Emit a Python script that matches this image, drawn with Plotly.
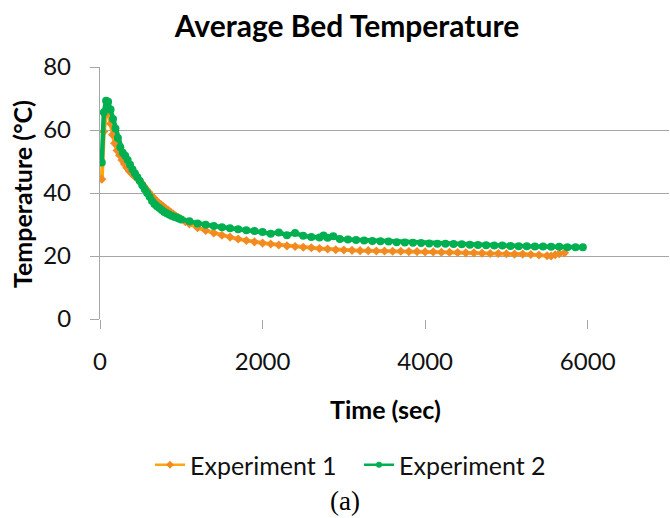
import plotly.graph_objects as go

# Experiment 1 (orange)
t1 = [22, 47, 75, 105, 130, 155, 180, 210, 240, 270, 300, 330, 360, 390, 420, 450, 480, 510, 540, 570,
      600, 630, 660, 690, 720, 750, 780, 810, 840, 870, 900, 930, 960, 990, 1050, 1100, 1200, 1300, 1400,
      1500, 1600, 1700, 1800, 1900, 2000, 2100, 2200, 2300, 2400, 2500, 2600, 2700, 2800, 2900, 3000,
      3100, 3200, 3300, 3400, 3500, 3600, 3700, 3800, 3900, 4000, 4100, 4200, 4300, 4400, 4500, 4600,
      4700, 4800, 4900, 5000, 5100, 5200, 5300, 5400, 5500, 5550, 5600, 5650, 5715]
T1 = [44.4, 59.5, 65.0, 66.6, 62.0, 58.5, 55.8, 53.5, 52.0, 50.5, 49.2, 48.0, 47.0, 46.2, 45.4, 44.8, 44.1,
      43.2, 42.2, 41.2, 40.2, 39.3, 38.5, 37.6, 36.9, 36.3, 35.7, 35.1, 34.5, 33.9, 33.3, 32.8, 32.3, 31.8,
      30.9, 30.2, 29.0, 28.1, 27.3, 26.6, 26.0, 25.4, 24.9, 24.5, 24.1, 23.8, 23.5, 23.2, 23.0, 22.8, 22.6,
      22.4, 22.2, 22.0, 21.9, 21.8, 21.7, 21.7, 21.6, 21.6, 21.5, 21.5, 21.4, 21.4, 21.3, 21.3, 21.2, 21.2,
      21.1, 21.0, 21.0, 20.9, 20.8, 20.8, 20.7, 20.6, 20.6, 20.5, 20.3, 20.1, 20.0, 20.4, 20.7, 21.0]

# Experiment 2 (green)
t2 = [22, 47, 75, 100, 130, 160, 190, 220, 250, 280, 310, 340, 370, 400, 430, 460, 490, 520, 550, 580,
      610, 640, 670, 700, 730, 760, 790, 820, 850, 880, 910, 940, 970, 1000, 1100, 1200, 1300, 1400, 1500,
      1600, 1700, 1800, 1900, 2000, 2100, 2200, 2300, 2400, 2500, 2600, 2700, 2750, 2800, 2870, 2950,
      3050, 3150, 3250, 3350, 3450, 3550, 3650, 3750, 3850, 3950, 4050, 4150, 4250, 4350, 4450, 4550,
      4650, 4750, 4850, 4950, 5050, 5150, 5250, 5350, 5450, 5550, 5650, 5750, 5850, 5940]
T2 = [49.7, 65.6, 69.3, 69.0, 66.5, 63.5, 60.5, 57.5, 54.5, 52.8, 51.8, 50.5, 49.0, 47.5, 46.2, 45.0, 43.8,
      42.5, 41.2, 40.0, 38.8, 37.5, 36.5, 35.8, 35.2, 34.6, 34.0, 33.6, 33.2, 32.8, 32.5, 32.2, 31.9, 31.6,
      31.0, 30.3, 29.9, 29.5, 29.1, 28.8, 28.5, 28.2, 27.9, 27.6, 27.1, 27.5, 26.6, 27.3, 26.4, 26.0, 25.9,
      26.5, 25.8, 26.3, 25.4, 25.2, 25.1, 24.9, 24.8, 24.7, 24.6, 24.4, 24.3, 24.2, 24.1, 24.0, 23.9, 23.9,
      23.8, 23.7, 23.6, 23.5, 23.4, 23.3, 23.3, 23.2, 23.1, 23.1, 23.0, 23.0, 22.9, 22.9, 22.8, 22.8, 22.8]

series_names = ["Experiment 1", "Experiment 2"]
x_ticks = [0, 2000, 4000, 6000]
y_ticks = [0, 20, 40, 60, 80]

W, H = 670, 518
ML, MR, MT, MB = 100, 1, 67, 199
PH = H - MT - MB
PW = W - ML - MR

def py(p):
    return (H - MB - p) / PH

def px(p):
    return (p - ML) / PW

FONT = "Lato"
grid = "#a6a6a6"
ORANGE_LINE, ORANGE_MK, GREEN = "#FFA60F", "#F28A24", "#00B050"

fig = go.Figure()
fig.add_trace(go.Scatter(
    x=t1, y=T1, mode="lines+markers", name=series_names[0], showlegend=False,
    line=dict(color=ORANGE_LINE, width=4),
    marker=dict(symbol="diamond", size=7, color=ORANGE_MK),
))
fig.add_trace(go.Scatter(
    x=t2, y=T2, mode="lines+markers", name=series_names[1], showlegend=False,
    line=dict(color=GREEN, width=4.5),
    marker=dict(symbol="circle", size=8, color=GREEN),
))
# legend entries (thin line + small marker, as in the original legend)
fig.add_trace(go.Scatter(
    x=[None], y=[None], mode="lines+markers", name=series_names[0],
    line=dict(color=ORANGE_LINE, width=2.5),
    marker=dict(symbol="diamond", size=6, color=ORANGE_MK),
))
fig.add_trace(go.Scatter(
    x=[None], y=[None], mode="lines+markers", name=series_names[1],
    line=dict(color=GREEN, width=2.5),
    marker=dict(symbol="circle", size=6, color=GREEN),
))

fig.update_layout(
    width=W, height=H,
    margin=dict(l=ML, r=MR, t=MT, b=MB),
    paper_bgcolor="white", plot_bgcolor="white",
    font=dict(family=FONT, size=24, color="#111111"),
    showlegend=True,
    legend=dict(orientation="h", x=px(359), xanchor="center", y=py(465), yanchor="middle",
                font=dict(family=FONT, size=25), itemwidth=30, tracegroupgap=0,
                entrywidth=164, entrywidthmode="pixels",
                bgcolor="rgba(0,0,0,0)"),
    title=dict(text="<b>Average Bed Temperature</b>", x=347 / W, xanchor="center",
               y=1 - 26 / H, yanchor="middle", font=dict(family=FONT, size=30, color="#000000")),
    xaxis=dict(range=[0, 7000], tickvals=x_ticks, ticktext=[str(v) for v in x_ticks],
               showgrid=False, zeroline=False, showline=False,
               ticks="outside", ticklen=9, tickcolor=grid, tickwidth=1.3,
               ticklabelstandoff=12,
               tickfont=dict(family=FONT, size=24)),
    yaxis=dict(range=[0, 80], tickvals=y_ticks, ticktext=[str(v) for v in y_ticks],
               showgrid=True, gridcolor=grid, gridwidth=1.3, zeroline=False,
               showline=True, linecolor=grid, linewidth=1.3,
               ticks="outside", ticklen=9, tickcolor=grid, tickwidth=1.3,
               ticklabelstandoff=14,
               tickfont=dict(family=FONT, size=24)),
    annotations=[
        dict(text="<b>Temperature (°C)</b>", xref="paper", yref="paper", x=px(22), y=py(194),
             xanchor="center", yanchor="middle", textangle=-90, showarrow=False,
             font=dict(family=FONT, size=25, color="#000000")),
        dict(text="<b>Time (sec)</b>", xref="paper", yref="paper", x=px(385), y=py(409),
             xanchor="center", yanchor="middle", showarrow=False,
             font=dict(family=FONT, size=25, color="#000000")),
        dict(text="(a)", xref="paper", yref="paper", x=px(345), y=py(501),
             xanchor="center", yanchor="middle", showarrow=False,
             font=dict(family="Liberation Serif", size=27, color="#000000")),
    ],
)

fig.write_html("out.html")
